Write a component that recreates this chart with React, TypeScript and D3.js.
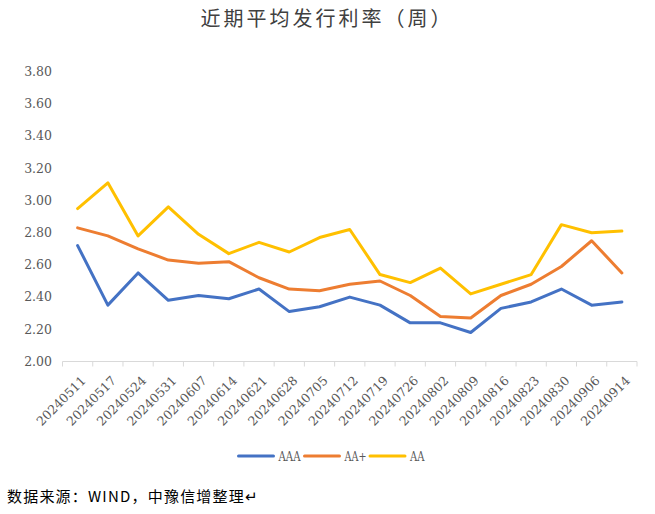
import React from "react";
import * as d3 from "d3";

const categories = ["20240511","20240517","20240524","20240531","20240607","20240614","20240621","20240628","20240705","20240712","20240719","20240726","20240802","20240809","20240816","20240823","20240830","20240906","20240914"];
const aaa = [2.72,2.35,2.55,2.38,2.41,2.39,2.45,2.31,2.34,2.40,2.35,2.24,2.24,2.18,2.33,2.37,2.45,2.35,2.37];
const aaPlus = [2.83,2.78,2.70,2.63,2.61,2.62,2.52,2.45,2.44,2.48,2.50,2.41,2.28,2.27,2.41,2.48,2.59,2.75,2.55];
const aa = [2.95,3.11,2.78,2.96,2.79,2.67,2.74,2.68,2.77,2.82,2.54,2.49,2.58,2.42,2.48,2.54,2.85,2.80,2.81];
const yTicks = [2.0,2.2,2.4,2.6,2.8,3.0,3.2,3.4,3.6,3.8];
const seriesNames = ["AAA","AA+","AA"];
const seriesColors = ["#4472C4","#ED7D31","#FFC000"];

const W = 655, H = 514;
const left = 62.5, right = 637, top = 71.7, bottom = 361.5;

export default function App() {
  const x = d3.scaleBand<string>().domain(categories).range([left, right]);
  const y = d3.scaleLinear().domain([2.0, 3.8]).range([bottom, top]);
  const line = d3.line<number>()
    .x((_, i) => (x(categories[i]) as number) + x.bandwidth() / 2)
    .y(d => y(d));
  const series = [aaa, aaPlus, aa];
  const tickXs = categories.map(c => x(c) as number).concat([right]);
  const labelFont = "'DejaVu Serif', serif";
  const legendItems = [
    { x: 238.5, tx: 278.5, w: 22 },
    { x: 304.5, tx: 344.5, w: 22 },
    { x: 370, tx: 410, w: 14.5 },
  ];
  return (
    <svg width={W} height={H} style={{ position: "absolute", left: 0, top: 0, background: "#fff" }}>
      <rect width={W} height={H} fill="#fff" />
      <text x={327} y={26} textAnchor="middle" fontSize={20} fill="#404040"
        fontFamily="'Noto Sans CJK SC', sans-serif" letterSpacing={3}>近期平均发行利率（周）</text>
      {yTicks.map(t => (
        <text key={t} x={52} y={y(t)} dy="0.35em" textAnchor="end" fontSize={12.5}
          fill="#595959" fontFamily={labelFont}>{t.toFixed(2)}</text>
      ))}
      <line x1={left} x2={right} y1={bottom} y2={bottom} stroke="#d9d9d9" strokeWidth={1} />
      {tickXs.map((tx, i) => (
        <line key={i} x1={tx} x2={tx} y1={bottom} y2={bottom + 5} stroke="#d9d9d9" strokeWidth={1} />
      ))}
      {categories.map(c => {
        const cx = (x(c) as number) + x.bandwidth() / 2;
        return (
          <text key={c} transform={`translate(${cx + 9},${bottom + 20}) rotate(-45)`}
            textAnchor="end" fontSize={12.5} fill="#595959" fontFamily={labelFont}>{c}</text>
        );
      })}
      {series.map((s, i) => (
        <path key={i} d={line(s) || ""} fill="none" stroke={seriesColors[i]} strokeWidth={3}
          strokeLinejoin="round" strokeLinecap="round" />
      ))}
      {legendItems.map((it, i) => (
        <g key={i}>
          <line x1={it.x} x2={it.x + 35} y1={456} y2={456} stroke={seriesColors[i]} strokeWidth={3} strokeLinecap="round" />
          <text x={it.tx} y={456} dy="0.35em" fontSize={13} fill="#595959" fontFamily={labelFont}
            textLength={it.w} lengthAdjust="spacingAndGlyphs">{seriesNames[i]}</text>
        </g>
      ))}
      <text x={7} y={502} fontSize={15} fill="#000" fontFamily="'Noto Sans CJK SC', sans-serif"
        letterSpacing={1.2}>数据来源：WIND，中豫信增整理↵</text>
    </svg>
  );
}
